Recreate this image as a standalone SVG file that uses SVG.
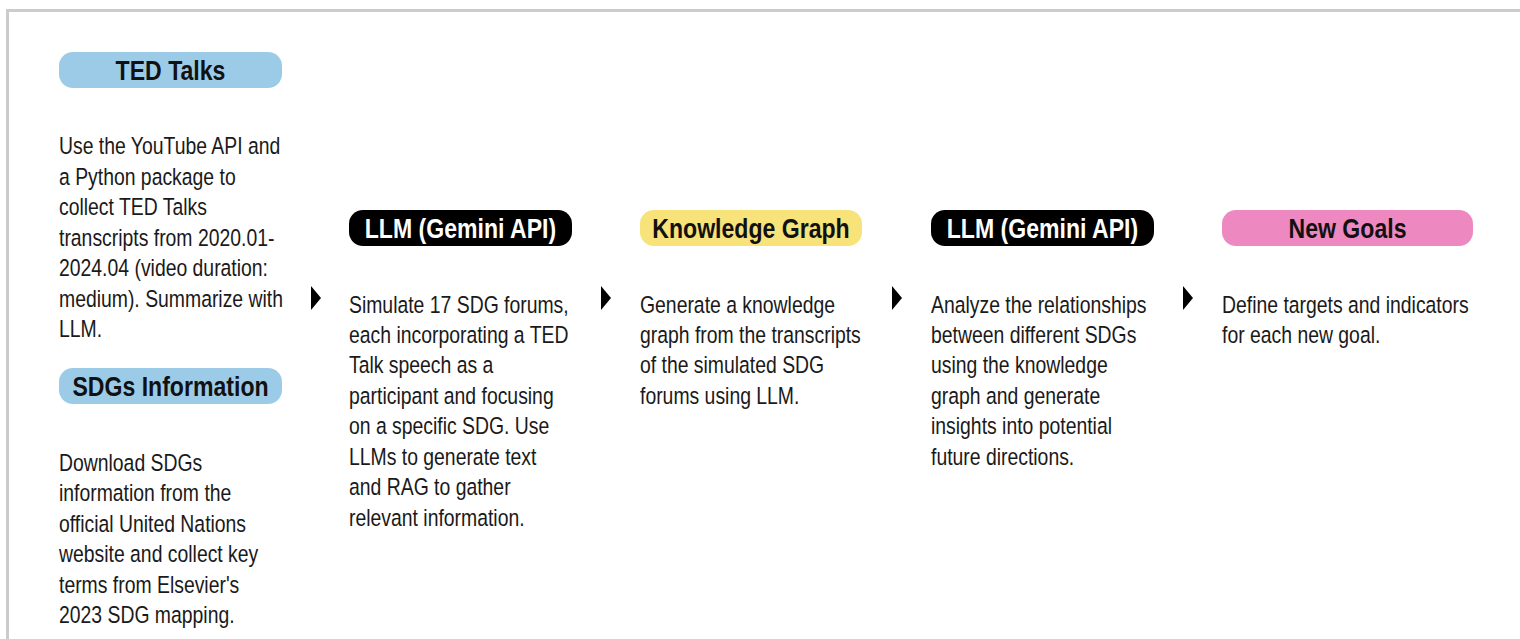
<svg xmlns="http://www.w3.org/2000/svg" width="1520" height="639" viewBox="0 0 1520 639">
<style>
.t{font-family:"Liberation Sans",Arial,sans-serif;font-size:23.5px;fill:#1a1a1a}
.h{font-family:"Liberation Sans",Arial,sans-serif;font-size:27px;font-weight:bold;text-anchor:middle}
.blue{fill:#9ccbe8}
.yel{fill:#f8e27a}
.pink{fill:#ee88c0}
.blk{fill:#000}
.arr{fill:#000}
</style>
<rect x="0" y="0" width="1520" height="639" fill="#fff"/>
<path d="M7.5 639 V10.5 H1520" fill="none" stroke="#cccccc" stroke-width="3"/>
<g id="ted-talks">
<rect class="blue" x="59" y="52" width="223" height="36" rx="14"/>
<text class="h" transform="translate(170.5 80) scale(0.855 1)" fill="#111">TED Talks</text>
<g transform="translate(59 1) scale(0.825 1)">
<text class="t" x="0" y="153">Use the YouTube API and</text>
<text class="t" x="0" y="184">a Python package to</text>
<text class="t" x="0" y="214">collect TED Talks</text>
<text class="t" x="0" y="245">transcripts from 2020.01-</text>
<text class="t" x="0" y="275">2024.04 (video duration:</text>
<text class="t" x="0" y="306">medium). Summarize with</text>
<text class="t" x="0" y="336">LLM.</text>
</g>
</g>
<g id="sdgs-information">
<rect class="blue" x="59" y="368" width="223" height="36" rx="14"/>
<text class="h" transform="translate(170.5 396) scale(0.855 1)" fill="#111">SDGs Information</text>
<g transform="translate(59 1) scale(0.825 1)">
<text class="t" x="0" y="470">Download SDGs</text>
<text class="t" x="0" y="500">information from the</text>
<text class="t" x="0" y="531">official United Nations</text>
<text class="t" x="0" y="561">website and collect key</text>
<text class="t" x="0" y="592">terms from Elsevier's</text>
<text class="t" x="0" y="622">2023 SDG mapping.</text>
</g>
</g>
<g id="llm-simulate">
<rect class="blk" x="349" y="210" width="223" height="36" rx="14"/>
<text class="h" transform="translate(460.5 238) scale(0.855 1)" fill="#fff">LLM (Gemini API)</text>
<g transform="translate(349 1) scale(0.825 1)">
<text class="t" x="0" y="312">Simulate 17 SDG forums,</text>
<text class="t" x="0" y="342">each incorporating a TED</text>
<text class="t" x="0" y="372">Talk speech as a</text>
<text class="t" x="0" y="403">participant and focusing</text>
<text class="t" x="0" y="433">on a specific SDG. Use</text>
<text class="t" x="0" y="464">LLMs to generate text</text>
<text class="t" x="0" y="494">and RAG to gather</text>
<text class="t" x="0" y="525">relevant information.</text>
</g>
</g>
<g id="knowledge-graph">
<rect class="yel" x="640" y="210" width="222" height="36" rx="14"/>
<text class="h" transform="translate(751 238) scale(0.855 1)" fill="#111">Knowledge Graph</text>
<g transform="translate(640 1) scale(0.825 1)">
<text class="t" x="0" y="312">Generate a knowledge</text>
<text class="t" x="0" y="342">graph from the transcripts</text>
<text class="t" x="0" y="372">of the simulated SDG</text>
<text class="t" x="0" y="403">forums using LLM.</text>
</g>
</g>
<g id="llm-analyze">
<rect class="blk" x="931" y="210" width="223" height="36" rx="14"/>
<text class="h" transform="translate(1042.5 238) scale(0.855 1)" fill="#fff">LLM (Gemini API)</text>
<g transform="translate(931 1) scale(0.825 1)">
<text class="t" x="0" y="312">Analyze the relationships</text>
<text class="t" x="0" y="342">between different SDGs</text>
<text class="t" x="0" y="372">using the knowledge</text>
<text class="t" x="0" y="403">graph and generate</text>
<text class="t" x="0" y="433">insights into potential</text>
<text class="t" x="0" y="464">future directions.</text>
</g>
</g>
<g id="new-goals">
<rect class="pink" x="1222" y="210" width="251" height="36" rx="14"/>
<text class="h" transform="translate(1347.5 238) scale(0.855 1)" fill="#111">New Goals</text>
<g transform="translate(1222 1) scale(0.825 1)">
<text class="t" x="0" y="312">Define targets and indicators</text>
<text class="t" x="0" y="342">for each new goal.</text>
</g>
</g>
<g id="connectors">
<polygon class="arr" points="311,286 321,298 311,310"/>
<polygon class="arr" points="601,286 611,298 601,310"/>
<polygon class="arr" points="892,286 902,298 892,310"/>
<polygon class="arr" points="1183,286 1193,298 1183,310"/>
</g>
</svg>
